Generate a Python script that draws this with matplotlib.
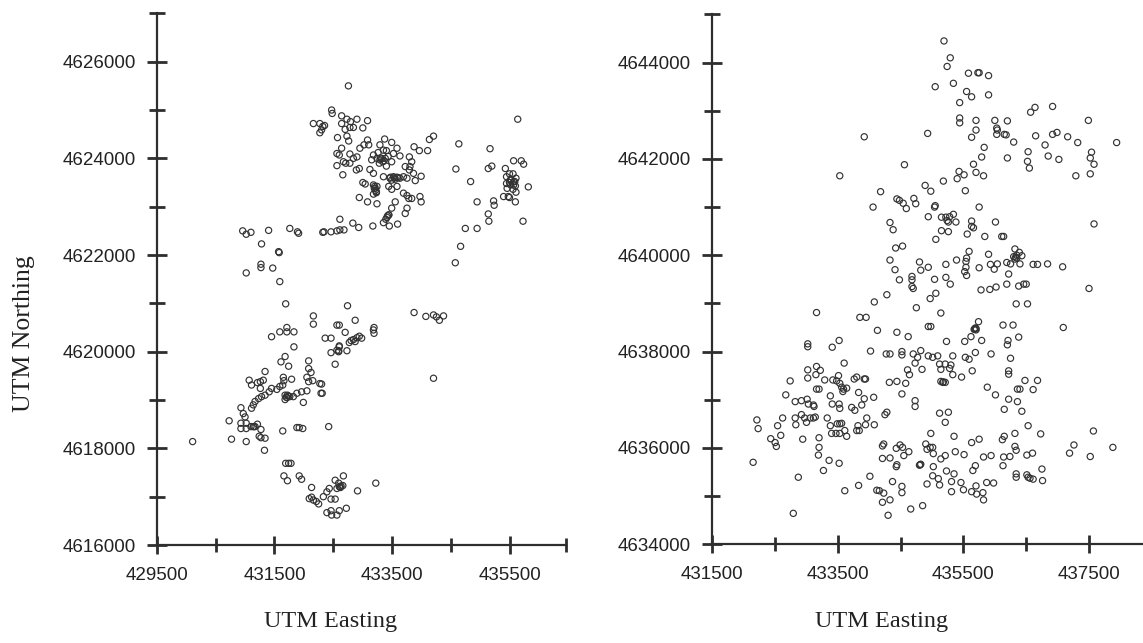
import matplotlib
matplotlib.use("Agg")
import matplotlib.pyplot as plt

# ---------------- data (UTM Easting, UTM Northing) ----------------
left_points = [
    (432755, 4625500), (432470, 4625000), (432480, 4624930), (432160, 4624720), (432270, 4624720),
    (432350, 4624680), (432300, 4624590), (432270, 4624530), (432320, 4624660), (432640, 4624880),
    (432730, 4624810), (432790, 4624760), (432900, 4624810), (432640, 4624720), (432780, 4624640),
    (432840, 4624640), (433000, 4624630), (433080, 4624780), (432700, 4624600), (432570, 4624430),
    (432730, 4624460), (432760, 4624360), (432640, 4624210), (432560, 4624100), (432600, 4624070),
    (432780, 4624090), (432900, 4624030), (432840, 4624000), (432670, 4623930), (432710, 4623900),
    (432780, 4623900), (432560, 4623850), (432660, 4623660), (432890, 4623760), (432940, 4623790),
    (432950, 4624210), (433020, 4624280), (433080, 4624380), (433100, 4624280), (433370, 4624400),
    (433490, 4624330), (433580, 4624210), (433290, 4624280), (433350, 4624170), (433400, 4624160),
    (433260, 4624120), (433180, 4624070), (433150, 4623970), (433240, 4624000), (433290, 4623970),
    (433340, 4623930), (433380, 4624000), (433280, 4623900), (433430, 4624040), (433520, 4624100),
    (433630, 4624050), (433490, 4623930), (433400, 4623840), (433120, 4623770), (433180, 4623690),
    (433790, 4624030), (433830, 4623930), (433870, 4624240), (433960, 4624160), (434100, 4624160),
    (434130, 4624390), (434200, 4624460), (433720, 4623830), (433800, 4623830), (433790, 4623760),
    (433690, 4623620), (433860, 4623690), (433990, 4623630), (433890, 4623540), (433350, 4623620),
    (433460, 4623590), (433520, 4623620), (433580, 4623610), (433630, 4623590), (433750, 4623590),
    (433490, 4623550), (433550, 4623570), (433000, 4623500), (433040, 4623470), (433180, 4623450),
    (433210, 4623380), (433230, 4623310), (433180, 4623260), (433240, 4623420), (433440, 4623420),
    (433490, 4623360), (433580, 4623420), (432940, 4623190), (433080, 4623100), (433240, 4623060),
    (433690, 4623280), (433750, 4623230), (433780, 4623170), (433830, 4623170), (433970, 4623210),
    (433990, 4623100), (433550, 4623100), (433490, 4622970), (433440, 4622830), (433410, 4622780),
    (433390, 4622740), (433750, 4622970), (433720, 4622860), (433350, 4622670), (433450, 4622600),
    (433590, 4622640), (433170, 4622600), (432610, 4622740), (432830, 4622660), (432930, 4622570),
    (430960, 4622500), (431020, 4622430), (431100, 4622470), (431400, 4622510), (431760, 4622550),
    (431890, 4622480), (431910, 4622450), (432320, 4622470), (432340, 4622480), (432460, 4622480),
    (432560, 4622500), (432610, 4622520), (432680, 4622520), (431280, 4622230), (431570, 4622070),
    (431580, 4622050), (431020, 4621630), (431270, 4621810), (431270, 4621740), (431470, 4621730),
    (431590, 4621450),
    (434630, 4624300), (434580, 4623780), (434830, 4623520), (435160, 4624200), (435130, 4623790),
    (435190, 4623840), (434940, 4623100), (435220, 4623120), (435230, 4623030), (435130, 4622850),
    (435140, 4622700), (434740, 4622550), (434940, 4622550), (434660, 4622180), (434570, 4621840),
    (435630, 4624810), (435560, 4623950), (435690, 4623950), (435730, 4623880), (435420, 4623790),
    (435490, 4623680), (435550, 4623680), (435440, 4623620), (435500, 4623550), (435560, 4623520),
    (435600, 4623590), (435440, 4623480), (435510, 4623450), (435590, 4623430), (435450, 4623380),
    (435550, 4623360), (435810, 4623410), (435600, 4623300), (435390, 4623210), (435470, 4623210),
    (435490, 4623190), (435590, 4623100), (435720, 4622700),
    (431690, 4620990), (432740, 4620950), (433870, 4620810), (434070, 4620730), (434200, 4620760),
    (434250, 4620720), (434300, 4620650), (434370, 4620740), (432160, 4620740), (432160, 4620570),
    (432870, 4620650), (432560, 4620550), (432600, 4620550), (433190, 4620500), (433180, 4620450),
    (433190, 4620380), (431590, 4620410), (431710, 4620500), (431710, 4620410), (431830, 4620410),
    (431450, 4620310), (431830, 4620100), (432360, 4620280), (432460, 4620280), (432700, 4620400),
    (432800, 4620230), (432840, 4620250), (432900, 4620290), (432940, 4620320), (432980, 4620280),
    (432770, 4620190), (432870, 4620210), (432730, 4620020), (432600, 4620100), (432560, 4620030),
    (432590, 4620000), (432460, 4619980), (432530, 4619740), (431680, 4619900), (431610, 4619790),
    (431740, 4619700), (431340, 4619590), (431070, 4619410), (431110, 4619310), (431210, 4619360),
    (431260, 4619380), (431310, 4619410), (431260, 4619240), (432080, 4619810), (432080, 4619650),
    (432120, 4619570), (432050, 4619470), (432080, 4619380), (432150, 4619400), (432270, 4619340),
    (432300, 4619330), (432310, 4619140), (432290, 4619140), (431650, 4619470), (431660, 4619400),
    (431640, 4619310), (431590, 4619280), (431540, 4619220), (431450, 4619240), (431410, 4619170),
    (431340, 4619100), (431280, 4619070), (431230, 4619030), (431170, 4618970), (431140, 4618900),
    (431110, 4618830), (431790, 4619430), (431680, 4619100), (431710, 4619050), (431740, 4619080),
    (431760, 4619070), (431820, 4619070), (431880, 4619140), (431960, 4619170), (432050, 4619190),
    (431680, 4619010), (431990, 4618950), (430930, 4618840), (430970, 4618720), (431000, 4618650),
    (430730, 4618570), (430930, 4618520), (431020, 4618520), (431100, 4618450), (431140, 4618450),
    (431170, 4618450), (431210, 4618500), (430930, 4618410), (431020, 4618410), (431270, 4618390),
    (431240, 4618250), (431270, 4618220), (431340, 4618210), (430770, 4618190), (431020, 4618140),
    (431330, 4617960), (430110, 4618140), (431640, 4618360), (431880, 4618430), (431920, 4618430),
    (431980, 4618410), (432420, 4618450), (434200, 4619450), (431690, 4617690), (431740, 4617690),
    (431780, 4617690), (431660, 4617430), (431720, 4617330), (431920, 4617430), (431960, 4617360),
    (432130, 4617190), (432090, 4616960), (432130, 4616990), (432160, 4616930), (432250, 4616850),
    (432210, 4616900), (432330, 4617000), (432390, 4617100), (432430, 4617170), (432460, 4616950),
    (432530, 4616950), (432530, 4617340), (432590, 4617280), (432600, 4617210), (432620, 4617190),
    (432660, 4617230), (432670, 4617430), (432560, 4617170), (432910, 4617120), (433220, 4617280),
    (432390, 4616670), (432470, 4616620), (432560, 4616620), (432600, 4616710), (432720, 4616760),
    (432460, 4616710),
    (433200, 4623420), (433215, 4623340), (433230, 4623290), (433195, 4623380), (433320, 4623990),
    (433360, 4623950), (433300, 4624010), (433540, 4623600), (433600, 4623600), (433470, 4623610),
    (433420, 4622810), (433440, 4622830), (435520, 4623560), (435560, 4623450), (435490, 4623500),
    (435580, 4623520), (431720, 4619100), (431700, 4619060), (432590, 4620020), (432610, 4617200),
    (432630, 4617220), (431150, 4618450), (432600, 4620120),
]

right_points = [
    (435190, 4644450), (435290, 4644100), (435240, 4643920), (435580, 4643780), (435730, 4643790),
    (435750, 4643790), (435900, 4643730), (435050, 4643500), (435340, 4643570), (435550, 4643400),
    (435630, 4643290), (435900, 4643330), (435440, 4643170), (436640, 4643070), (436570, 4642970),
    (436920, 4643090), (435440, 4642850), (435440, 4642750), (435700, 4642800), (436000, 4642800),
    (436200, 4642790), (437490, 4642800), (434930, 4642530), (433920, 4642460), (435700, 4642600),
    (435630, 4642450), (436030, 4642640), (436040, 4642600), (436030, 4642510), (436150, 4642510),
    (436180, 4642500), (436300, 4642350), (436650, 4642480), (436920, 4642510), (436990, 4642550),
    (437160, 4642460), (437320, 4642340), (437940, 4642340), (435830, 4642240), (435790, 4642040),
    (436200, 4642020), (436530, 4642150), (436520, 4641950), (436550, 4641810), (436800, 4642290),
    (436850, 4642060), (437020, 4641990), (437540, 4642140), (437520, 4642020), (437580, 4641890),
    (437290, 4641650), (437520, 4641690), (434560, 4641880), (433530, 4641650), (435660, 4641890),
    (435430, 4641740), (435510, 4641670), (435700, 4641720), (435820, 4641650), (435400, 4641590),
    (435180, 4641540), (434890, 4641450), (434980, 4641330), (435530, 4641340), (434180, 4641320),
    (434440, 4641170), (434480, 4641140), (434540, 4641080), (434590, 4640970), (434710, 4641180),
    (434740, 4641070), (435050, 4641030), (435040, 4641000), (434060, 4641000), (435750, 4641000),
    (434940, 4640800), (435150, 4640790), (435220, 4640790), (435280, 4640800), (435340, 4640850),
    (435260, 4640690), (435380, 4640690), (435240, 4640720), (435630, 4640710), (435630, 4640600),
    (435660, 4640570), (436010, 4640690), (437580, 4640650), (434330, 4640680), (434380, 4640530),
    (435150, 4640510), (435260, 4640490), (435560, 4640440), (435840, 4640390), (436110, 4640390),
    (436140, 4640390), (435060, 4640330), (434420, 4640150), (434530, 4640190), (436320, 4640130),
    (436390, 4640060), (436430, 4639990), (436300, 4639970), (436320, 4639920), (436350, 4639940),
    (435590, 4640080), (435900, 4640020), (435550, 4639940), (435540, 4639870), (435390, 4639900),
    (434330, 4639900), (434800, 4639860), (435220, 4639810), (434940, 4639750), (434820, 4639690),
    (434410, 4639700), (435540, 4639750), (435750, 4639740), (435930, 4639810), (436040, 4639820),
    (435990, 4639710), (436190, 4639850), (436250, 4639820), (436400, 4639820), (436610, 4639810),
    (436680, 4639810), (436840, 4639820), (437080, 4639760), (435520, 4639660), (435550, 4639580),
    (436220, 4639610), (434480, 4639490), (434680, 4639560), (434680, 4639490), (435040, 4639500),
    (435220, 4639540), (435290, 4639400), (434680, 4639350), (434700, 4639310), (435780, 4639280),
    (435920, 4639290), (436020, 4639340), (436190, 4639400), (436380, 4639360), (436460, 4639400),
    (436500, 4639400), (437500, 4639310), (434280, 4639180), (434080, 4639030), (434970, 4639100),
    (435060, 4639210),
    (436340, 4638990), (436520, 4638990), (433160, 4638810), (433850, 4638710), (433950, 4638710),
    (434750, 4638910), (435140, 4638800), (434940, 4638520), (434980, 4638520), (435740, 4638620),
    (435690, 4638490), (435700, 4638450), (435670, 4638460), (436130, 4638550), (436290, 4638550),
    (437090, 4638500), (434130, 4638440), (434440, 4638400), (434620, 4638310), (433520, 4638230),
    (433410, 4638090), (435230, 4638210), (435520, 4638210), (435620, 4638310), (435790, 4638230),
    (436210, 4638230), (436200, 4638140), (436380, 4638300), (433020, 4638160), (433020, 4638100),
    (434020, 4638010), (434270, 4637950), (434330, 4637950), (434520, 4638000), (434520, 4637930),
    (434700, 4637950), (434770, 4637880), (434820, 4638020), (434940, 4637910), (435010, 4637880),
    (435090, 4637910), (435330, 4637910), (435530, 4637880), (435590, 4637840), (435690, 4637980),
    (435940, 4637950), (436250, 4637860), (434730, 4637760), (433600, 4637760), (435120, 4637740),
    (435210, 4637740), (435300, 4637720), (435140, 4637630), (435280, 4637650), (434610, 4637620),
    (434640, 4637520), (434840, 4637630), (435330, 4637520), (435470, 4637470), (435640, 4637600),
    (436220, 4637600), (436220, 4637530), (433020, 4637620), (433160, 4637690), (433220, 4637610),
    (433150, 4637520), (433020, 4637450), (432740, 4637390), (433290, 4637410), (433420, 4637410),
    (433480, 4637390), (433510, 4637500), (433530, 4637340), (433560, 4637260), (433590, 4637220),
    (433640, 4637240), (433760, 4637430), (433800, 4637470), (433920, 4637430), (433940, 4637430),
    (434320, 4637360), (434440, 4637380), (434580, 4637340), (435140, 4637380), (435170, 4637360),
    (435210, 4637360), (432670, 4637100), (432820, 4636960), (432920, 4636980), (433010, 4637010),
    (433110, 4636890), (433120, 4636860), (433030, 4636910), (433160, 4637220), (433200, 4637220),
    (433380, 4637080), (433410, 4636910), (433520, 4636910), (433530, 4636820), (433580, 4637170),
    (433720, 4636840), (433770, 4636780), (433830, 4637150), (433880, 4636890), (433920, 4637020),
    (434070, 4637050), (434520, 4637120), (434730, 4636980), (434730, 4636860), (435880, 4637260),
    (436010, 4637100), (436220, 4637010), (436360, 4637220), (436400, 4637220), (436610, 4637210),
    (436480, 4637400), (436680, 4637400), (436360, 4636960), (436430, 4636760), (436150, 4636800),
    (432210, 4636580), (432230, 4636400), (432620, 4636620), (432820, 4636620), (432830, 4636480),
    (432920, 4636690), (433000, 4636530), (432970, 4636620), (433060, 4636620), (433110, 4636620),
    (433140, 4636640), (433330, 4636620), (433380, 4636460), (433490, 4636500), (433530, 4636500),
    (433560, 4636510), (433820, 4636460), (433940, 4636480), (433960, 4636620), (434080, 4636480),
    (434250, 4636690), (434280, 4636740), (435120, 4636720), (435260, 4636740), (435210, 4636530),
    (432540, 4636460), (432430, 4636190), (432500, 4636110), (432520, 4636030), (432590, 4636260),
    (432940, 4636180), (433200, 4636210), (433200, 4636010), (433190, 4635850), (433270, 4635530),
    (433360, 4635740), (433520, 4635680), (433400, 4636300), (433470, 4636300), (433530, 4636300),
    (433610, 4636360), (433640, 4636240), (433800, 4636360), (433840, 4636360), (432150, 4635700),
    (432870, 4635390), (432790, 4634640), (434230, 4636080), (434210, 4636040), (434430, 4635990),
    (434490, 4636060), (434530, 4636010), (434550, 4635840), (434630, 4635920), (434210, 4635780),
    (434330, 4635790), (434440, 4635650), (434430, 4635610), (434900, 4636080), (434920, 4635970),
    (434970, 4636010), (435010, 4636010), (434980, 4636300), (435020, 4635880), (435140, 4635770),
    (435210, 4635840), (435350, 4636240), (435370, 4635920), (435510, 4635860), (435630, 4636110),
    (435750, 4636180), (435820, 4635810), (435940, 4635840), (436140, 4635810), (436240, 4635820),
    (436320, 4636030), (436340, 4635950), (436120, 4636170), (436150, 4636240), (436320, 4636300),
    (436530, 4636460), (436730, 4636290), (436510, 4635850), (436600, 4635890), (434810, 4635650),
    (435020, 4635610), (435230, 4635520), (435350, 4635460), (435010, 4635420), (435100, 4635360),
    (435120, 4635230), (434920, 4635250), (435310, 4635300), (435460, 4635280), (435690, 4635630),
    (435650, 4635530), (435870, 4635280), (435980, 4635270), (436130, 4635630), (436340, 4635460),
    (436340, 4635390), (436510, 4635440), (436530, 4635390), (436560, 4635370), (436610, 4635350),
    (436750, 4635560), (436760, 4635320), (437190, 4635890), (437260, 4636060), (437520, 4635820),
    (437570, 4636350), (437880, 4636010), (434010, 4635410), (433830, 4635220), (433610, 4635110),
    (434120, 4635120), (434160, 4635110), (434230, 4635060), (434210, 4634870), (434330, 4634920),
    (434300, 4634600), (434370, 4635300), (434520, 4635200), (434520, 4635070), (434660, 4634730),
    (434850, 4634800), (435310, 4635090), (435500, 4635130), (435630, 4635090), (435700, 4635210),
    (435710, 4635040), (435810, 4635070), (435820, 4634920),
    (435700, 4638480), (435680, 4638470), (434800, 4635640), (434820, 4635660), (435180, 4637370),
    (436330, 4639960), (436350, 4640000),
]

left_xticks = [429500, 431500, 433500, 435500]
left_xminor = [430500, 432500, 434500, 436450]
left_yticks = [4616000, 4618000, 4620000, 4622000, 4624000, 4626000]
left_yminor = [4617000, 4619000, 4621000, 4623000, 4625000, 4627000]

right_xticks = [431500, 433500, 435500, 437500]
right_xminor = [432500, 434500, 436500]
right_yticks = [4634000, 4636000, 4638000, 4640000, 4642000, 4644000]
right_yminor = [4635000, 4637000, 4639000, 4641000, 4643000, 4645000]

x_label = "UTM Easting"
y_label = "UTM Northing"

# ---------------- figure ----------------
INK = "#2e2e2e"
fig = plt.figure(figsize=(11.43, 6.43), dpi=100)
fig.patch.set_facecolor("white")

ax1 = fig.add_axes([0.1371, 0.1524, 0.3581, 0.8268])
ax2 = fig.add_axes([0.6232, 0.1537, 0.3768, 0.8238])


def style(ax, pts, xlim, ylim, xt, xm, yt, ym):
    e = [p[0] for p in pts]
    n = [p[1] for p in pts]
    ax.scatter(e, n, s=20, facecolors="none", edgecolors="#333333",
               linewidths=0.85, zorder=3, clip_on=False)
    ax.set_xlim(*xlim)
    ax.set_ylim(*ylim)
    for side in ("top", "right"):
        ax.spines[side].set_visible(False)
    for side in ("left", "bottom"):
        ax.spines[side].set_linewidth(1.6)
        ax.spines[side].set_color(INK)
    ax.set_xticks(xt)
    ax.set_xticks(xm, minor=True)
    ax.set_yticks(yt)
    ax.set_yticks(ym, minor=True)
    ax.set_xticklabels([str(v) for v in xt])
    ax.set_yticklabels([str(v) for v in yt])
    ax.tick_params(axis="x", which="major", direction="inout", length=13,
                   width=2.0, color=INK, pad=9.5, labelsize=13.5, labelcolor="#222222")
    ax.tick_params(axis="x", which="minor", direction="inout", length=9.5,
                   width=2.0, color=INK)
    ax.tick_params(axis="y", which="major", direction="inout", length=14.5,
                   width=2.0, color=INK, pad=8, labelsize=13.5, labelcolor="#222222")
    ax.tick_params(axis="y", which="minor", direction="inout", length=11,
                   width=2.0, color=INK)
    for lab in ax.get_xticklabels() + ax.get_yticklabels():
        lab.set_fontfamily(["Liberation Sans", "DejaVu Sans"])
    ax.set_facecolor("white")


style(ax1, left_points, (429500, 436450), (4616000, 4627000),
      left_xticks, left_xminor, left_yticks, left_yminor)
style(ax2, right_points, (431500, 438360), (4634000, 4645000),
      right_xticks, right_xminor, right_yticks, right_yminor)

serif = ["Liberation Serif", "DejaVu Serif"]
fig.text(331 / 1143, 1 - 622 / 643, x_label, ha="center", va="center",
         fontsize=17.5, family=serif, color="#222222")
fig.text(882 / 1143, 1 - 622 / 643, x_label, ha="center", va="center",
         fontsize=17.5, family=serif, color="#222222")
fig.text(24 / 1143, 1 - 334 / 643, y_label, ha="center", va="center",
         rotation=90, fontsize=18.5, family=serif, color="#222222")

fig.savefig("out.png", dpi=100, facecolor="white")
